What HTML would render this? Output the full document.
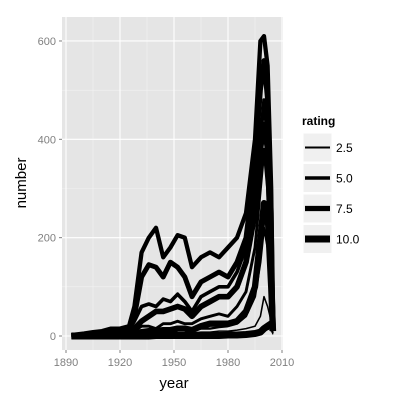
<!DOCTYPE html>
<html><head><meta charset="utf-8"><style>body{margin:0;background:#fff}svg{display:block;font-family:"Liberation Sans",sans-serif}</style></head>
<body>
<svg id="c" width="400" height="400">
<rect x="62" y="17" width="221" height="333" fill="#e5e5e5"/>
<g id="grid"></g><g id="lines"></g><g id="axes"></g>
<text x="174" y="388" font-size="15" text-anchor="middle">year</text>
<text transform="translate(26,183) rotate(-90)" font-size="15" text-anchor="middle">number</text>
<g>
<text x="302" y="125" font-size="12" font-weight="bold">rating</text>
<g id="leg"></g>
</g>
</svg>
<script>
const years=[1893,1900,1905,1910,1915,1920,1925,1928,1932,1936,1940,1944,1948,1952,1956,1960,1965,1970,1975,1980,1985,1990,1995,1998,2000,2002,2004,2005];
const ratings=[1,2,3,4,5,6,7,8,9,10];
const r1=[0,0,0,0,0,1,1,1,2,2,2,2,2,3,3,3,3,4,4,4,5,8,10,15,20,15,10,3];
const r2=[0,0,0,1,1,1,1,2,4,5,5,5,5,6,6,6,8,8,10,10,12,15,20,40,80,60,30,5];
const r3=[0,0,1,1,2,2,3,4,8,10,10,10,10,12,12,12,15,15,18,20,25,40,80,150,220,180,80,10];
const r4=[0,1,2,3,4,5,6,10,20,20,15,25,25,30,25,25,35,40,45,40,60,90,180,300,380,300,120,15];
const r5=[1,2,4,5,8,10,12,30,60,65,60,75,70,85,70,50,80,90,100,100,130,180,300,400,480,400,200,20];
const r6=[2,5,8,10,15,15,20,60,170,200,220,160,180,205,200,140,160,170,160,180,200,250,400,600,610,550,300,20];
const r7=[1,3,5,8,10,12,15,40,120,145,140,120,150,140,120,80,110,120,130,120,150,200,350,500,560,480,250,20];
const r8=[0,1,2,3,4,6,8,15,30,40,50,50,55,60,55,40,60,70,80,80,100,150,250,380,430,380,150,15];
const r9=[0,0,1,1,2,2,3,5,8,10,10,12,12,15,15,12,20,25,25,25,30,50,100,200,270,250,100,10];
const r10=[0,0,0,0,0,0,0,0,0,0,1,1,1,1,1,1,1,1,1,2,2,3,5,8,15,20,25,20];
const series=[r1,r2,r3,r4,r5,r6,r7,r8,r9,r10];
const xTicks=[1890,1920,1950,1980,2010];
const yTicks=[0,200,400,600];
const legendVals=[2.5,5.0,7.5,10.0];
const NS="http://www.w3.org/2000/svg";
const X=v=>66+(v-1890)*1.8;
const Y=v=>336-v*0.4917;
const W=r=>0.2+r*0.68;
function mk(t,a,p){const e=document.createElementNS(NS,t);for(const k in a)e.setAttribute(k,a[k]);p.appendChild(e);return e;}
const g=document.getElementById('grid');
[1905,1935,1965,1995].forEach(v=>{const l=mk('line',{x1:X(v),x2:X(v),y1:17,y2:350,stroke:'#f2f2f2','stroke-width':0.6},g);

});
[100,300,500].forEach(v=>{const l=mk('line',{x1:62,x2:283,y1:Y(v),y2:Y(v),stroke:'#f2f2f2','stroke-width':0.6},g);

});
const ax=document.getElementById('axes');
xTicks.forEach(v=>{const l=mk('line',{x1:X(v),x2:X(v),y1:17,y2:350,stroke:'#fff','stroke-width':1.1},g);


mk('line',{x1:X(v),x2:X(v),y1:350,y2:353,stroke:'#7f7f7f'},ax);
const t=mk('text',{x:X(v),y:366,'font-size':11,fill:'#7f7f7f','text-anchor':'middle'},ax);t.textContent=v;

});
yTicks.forEach(v=>{const l=mk('line',{x1:62,x2:283,y1:Y(v),y2:Y(v),stroke:'#fff','stroke-width':1.1},g);


mk('line',{x1:59,x2:62,y1:Y(v),y2:Y(v),stroke:'#7f7f7f'},ax);
const t=mk('text',{x:56,y:Y(v)+4,'font-size':11,fill:'#7f7f7f','text-anchor':'end'},ax);t.textContent=v;

});
const lg=document.getElementById('lines');
series.forEach((s,i)=>{const d=s.map((v,j)=>(j?'L':'M')+X(years[j]).toFixed(1)+','+Y(v).toFixed(1)).join('');
const p=mk('path',{d:d,fill:'none',stroke:'#000','stroke-width':W(ratings[i]),'stroke-linejoin':'round'},lg);

});
const leg=document.getElementById('leg');
legendVals.forEach((v,i)=>{const y=133+i*30.5;
const r=mk('rect',{x:303,y:y,width:29,height:29,fill:'#f0f0f0',stroke:'#fff'},leg);


mk('line',{x1:305,x2:330,y1:y+14.5,y2:y+14.5,stroke:'#000','stroke-width':W(v)},leg);
const t=mk('text',{x:336,y:y+19,'font-size':12},leg);t.textContent=v.toFixed(1);

});
</script>
</body></html>
